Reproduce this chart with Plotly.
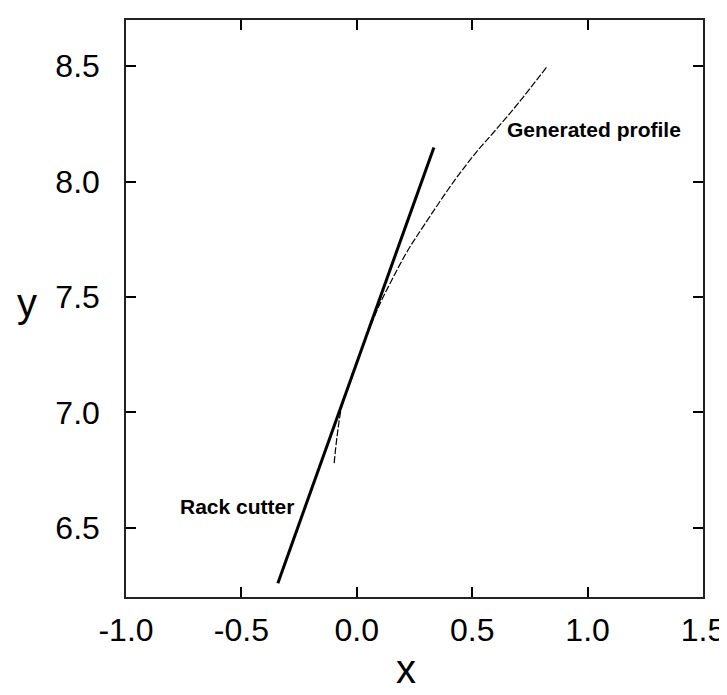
import plotly.graph_objects as go

# Rack cutter (straight line)
rack_x = [-0.342, 0.334]
rack_y = [6.26, 8.148]

# Generated profile
gen_x = [-0.098, -0.085, -0.064, -0.03, 0.0, 0.05, 0.10, 0.15, 0.22, 0.291, 0.42, 0.52, 0.604, 0.70, 0.826]
gen_y = [6.78, 6.90, 7.03, 7.13, 7.215, 7.35, 7.47, 7.57, 7.70, 7.81, 8.00, 8.13, 8.226, 8.34, 8.50]

x_ticks = [-1.0, -0.5, 0.0, 0.5, 1.0, 1.5]
y_ticks = [6.5, 7.0, 7.5, 8.0, 8.5]

fig = go.Figure()
fig.add_trace(go.Scatter(x=rack_x, y=rack_y, mode="lines",
                         line=dict(color="black", width=3), name="Rack cutter"))
fig.add_trace(go.Scatter(x=gen_x, y=gen_y, mode="lines",
                         line=dict(color="black", width=1.2, dash="7px,2px"),
                         line_shape="spline", name="Generated profile"))

font = "Liberation Sans, Arial, Helvetica, sans-serif"
fig.add_annotation(x=0.642, y=8.226, text="<b>Generated profile</b>", showarrow=False,
                   xanchor="left", yanchor="middle",
                   font=dict(family=font, size=21, color="black"))
fig.add_annotation(x=-0.265, y=6.593, text="<b>Rack cutter</b>", showarrow=False,
                   xanchor="right", yanchor="middle",
                   font=dict(family=font, size=21, color="black"))

axis_common = dict(showgrid=False, zeroline=False, showline=True, linecolor="#222",
                   linewidth=1.5, mirror="ticks", ticks="inside", ticklen=10,
                   tickcolor="black", tickwidth=1.5,
                   tickfont=dict(family=font, size=32, color="black"))

fig.update_layout(
    width=727, height=695,
    margin=dict(l=118, r=25, t=10, b=106),
    paper_bgcolor="white", plot_bgcolor="white",
    showlegend=False,
    xaxis=dict(range=[-1.0, 1.5], tickvals=x_ticks,
               ticktext=[f"{v:.1f}" for v in x_ticks], ticklabelstandoff=4,
               **axis_common),
    yaxis=dict(range=[6.2, 8.7], tickvals=y_ticks,
               ticktext=[f"{v:.1f}" for v in y_ticks], ticklabelstandoff=18,
               **axis_common),
)
fig.add_annotation(xref="paper", yref="paper", x=-0.172, y=0.51, text="y", showarrow=False,
                   xanchor="center", yanchor="middle",
                   font=dict(family=font, size=40, color="black"))
fig.add_annotation(xref="paper", yref="paper", x=0.486, y=-0.125, text="x", showarrow=False,
                   xanchor="center", yanchor="middle",
                   font=dict(family=font, size=40, color="black"))

fig.write_html("out.html")
